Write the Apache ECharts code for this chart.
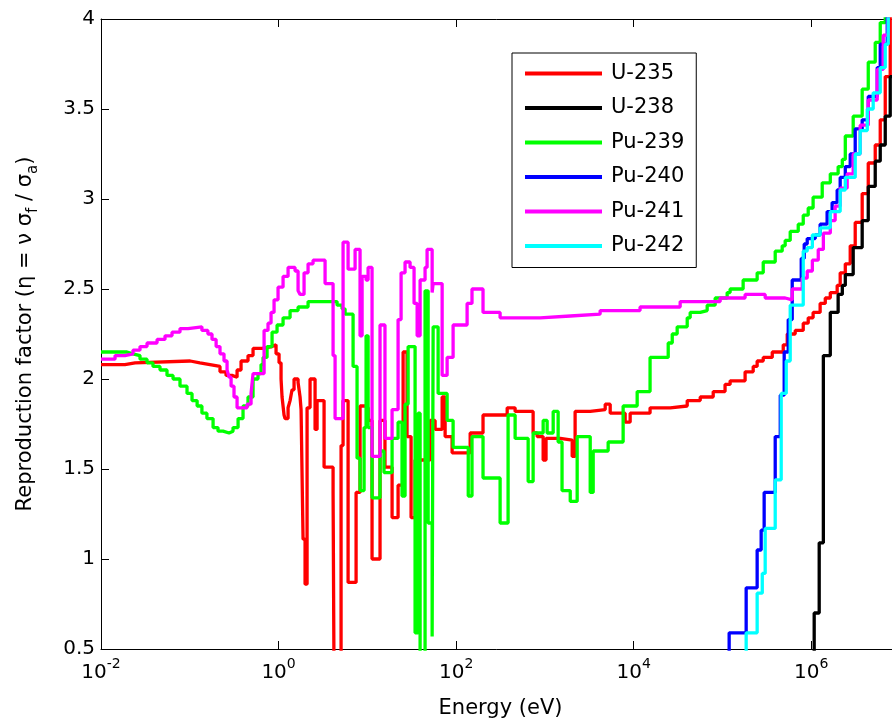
<!DOCTYPE html>
<html><head><meta charset="utf-8">
<script src="https://cdn.jsdelivr.net/npm/echarts@6/dist/echarts.min.js"></script>
<style>html,body{margin:0;padding:0;background:#fff;overflow:hidden}#c{width:892px;height:723px}</style>
</head><body><div id="c"></div>
<script>
const seriesNames = ['U-235', 'U-238', 'Pu-239', 'Pu-240', 'Pu-241', 'Pu-242'];
const seriesColors = ['#ff0000', '#000000', '#00ff00', '#0000ff', '#ff00ff', '#00ffff'];
const xTickExponents = [-2, 0, 2, 4, 6];
const yTickValues = [0.5, 1, 1.5, 2, 2.5, 3, 3.5, 4];

const u235Energy = [0.01,0.0186,0.0242,0.101,0.130,0.169,0.219,0.256,0.299,0.341,0.378,0.453,0.516,0.652,0.845,0.937,1.013,1.067,1.095,1.153,1.184,1.28,1.348,1.419,1.495,1.659,1.747,1.793,1.888,1.989,2.095,2.264,2.578,2.716,3.256,4.113,4.221,5.06,5.33,6.07,7.47,8.28,9.43,10.2,11.3,13.9,15.8,19.0,22.2,25.3,28.0,31.1,34.5,50.9,58.0,69.6,75.2,90.1,144,201,376,462,737,818,956,1030,1490,2030,2190,3240,4780,5440,8020,9130,15300,25800,40100,56200,78700,107000,122000,180000,222000,246000,288000,364000,484000,537000,660000,813000,925000,1.05e6,1.26e6,1.44e6,1.64e6,1.96e6,2.12e6,2.42e6,2.75e6,3.13e6,3.75e6,4.39e6,5.26e6,5.99e6,6.82e6,7.76e6,1e7];
const u235Eta = [2.08,2.09,2.10,2.09,2.08,2.07,2.04,2.02,2.01,2.05,2.10,2.13,2.17,2.18,2.19,2.14,2.09,2.00,1.90,1.80,1.78,1.84,1.88,1.94,2.00,1.98,1.90,1.83,1.11,0.86,1.84,2.00,1.72,1.88,1.51,1.37,0.30,1.63,1.88,0.87,1.37,1.85,1.84,1.77,1.00,1.77,1.51,1.23,1.41,2.15,1.68,1.23,1.55,1.77,1.72,1.90,1.68,1.59,1.70,1.80,1.84,1.82,1.70,1.68,1.55,1.67,1.66,1.57,1.82,1.83,1.86,1.81,1.76,1.81,1.84,1.85,1.88,1.90,1.93,1.97,1.99,2.04,2.07,2.10,2.12,2.15,2.19,2.25,2.27,2.31,2.34,2.37,2.42,2.45,2.48,2.52,2.59,2.64,2.74,2.87,3.03,3.20,3.30,3.44,3.68,4.10,4.10];

const u238Energy = [1e5,1.08e6,1.23e6,1.37e6,1.64e6,2.01e6,2.24e6,2.42e6,2.97e6,3.75e6,4.39e6,5.26e6,5.99e6,6.82e6,7.76e6,1e7];
const u238Eta = [0,0.70,1.09,2.13,2.37,2.47,2.52,2.58,2.73,2.88,3.07,3.21,3.30,3.46,3.68,3.68];

const pu239Energy = [0.01,0.0196,0.0229,0.0275,0.033,0.0385,0.0462,0.0554,0.0648,0.0776,0.0931,0.106,0.121,0.137,0.156,0.183,0.208,0.237,0.277,0.307,0.350,0.398,0.453,0.516,0.587,0.635,0.669,0.742,0.845,0.962,1.124,1.348,1.659,2.150,4.563,5.19,5.615,6.91,7.66,8.28,9.19,9.68,10.2,11.3,13.9,15.4,19.0,22.2,24.6,26.6,28.8,34.5,37.3,39.3,44.7,48.4,53.7,55.1,62.7,79.2,92.5,137,151,201,313,385,462,648,737,956,1060,1240,1410,1560,1930,2310,3240,3500,5160,7610,10950,15300,24500,27200,30900,40100,43300,56200,67300,82800,113000,122000,171000,246000,288000,393000,471000,509000,580000,714000,813000,925000,1.05e6,1.33e6,1.64e6,2.01e6,2.24e6,2.42e6,2.97e6,3.75e6,4.39e6,5.26e6,5.99e6,6.82e6,1e7];
const pu239Eta = [2.15,2.14,2.13,2.11,2.09,2.07,2.05,2.02,2.00,1.96,1.92,1.88,1.85,1.81,1.78,1.73,1.71,1.70,1.71,1.73,1.78,1.85,1.90,2.00,2.03,2.08,2.12,2.18,2.26,2.30,2.34,2.38,2.40,2.43,2.41,2.39,2.36,2.07,1.56,1.38,1.73,2.24,1.73,1.34,1.60,1.48,1.67,1.76,1.35,1.86,2.18,0.59,1.81,0.30,2.49,1.20,0.57,2.29,1.92,1.77,1.62,1.35,1.68,1.45,1.20,1.80,1.67,1.43,1.70,1.77,1.70,1.82,1.65,1.38,1.32,1.68,1.37,1.60,1.65,1.85,1.93,2.12,2.20,2.25,2.29,2.34,2.37,2.38,2.41,2.45,2.48,2.50,2.55,2.59,2.65,2.71,2.74,2.77,2.82,2.86,2.91,2.95,3.01,3.09,3.14,3.18,3.22,3.35,3.46,3.61,3.76,3.87,3.98,4.10,4.10];

const pu240Energy = [1e5,119000,185000,246000,273000,295000,393000,448000,496000,551000,611000,772000,834000,901000,1.11e6,1.26e6,1.51e6,1.72e6,1.96e6,2.12e6,2.42e6,2.75e6,3.13e6,3.75e6,4.39e6,5.54e6,5.99e6,7.18e6,1e7];
const pu240Eta = [0,0.59,0.84,1.05,1.16,1.37,1.68,1.91,2.15,2.33,2.55,2.67,2.75,2.78,2.80,2.86,2.93,2.98,3.05,3.12,3.18,3.25,3.39,3.44,3.57,3.73,3.86,4.10,4.10];

const pu241Energy = [0.01,0.0144,0.0186,0.0229,0.0275,0.033,0.0428,0.0526,0.0631,0.0776,0.0956,0.137,0.160,0.178,0.198,0.219,0.243,0.263,0.277,0.292,0.315,0.341,0.442,0.490,0.516,0.687,0.761,0.823,0.890,0.987,1.124,1.280,1.534,1.659,1.747,1.938,2.150,2.447,3.342,4.113,4.332,5.33,6.07,7.28,8.28,8.73,9.68,10.2,11.3,13.9,15.8,19.0,22.2,24.0,26.6,30.3,33.6,36.4,39.3,44.7,47.1,53.7,55.1,69.6,79.2,92.5,133,151,201,313,884,1930,4190,11800,33400,94300,180000,303000,509000,611000,792000,901000,1.03e6,1.20e6,1.37e6,1.64e6,1.86e6,2.12e6,2.54e6,2.97e6,3.56e6,4.39e6,5.54e6,6.48e6,7.37e6,1e7];
const pu241Eta = [2.11,2.13,2.14,2.16,2.18,2.20,2.22,2.24,2.26,2.28,2.29,2.27,2.25,2.22,2.18,2.14,2.10,2.05,2.01,1.96,1.90,1.84,1.86,1.92,2.03,2.27,2.31,2.37,2.44,2.51,2.57,2.62,2.60,2.49,2.47,2.59,2.64,2.66,2.53,2.13,1.78,2.76,2.61,2.72,2.24,2.57,2.55,2.62,1.57,2.30,1.67,1.83,2.33,2.59,2.65,2.62,2.42,2.24,2.55,2.62,2.72,2.48,2.53,2.02,2.12,2.30,2.42,2.50,2.37,2.34,2.35,2.36,2.38,2.40,2.43,2.45,2.47,2.45,2.44,2.50,2.56,2.60,2.66,2.72,2.81,2.88,2.96,3.06,3.14,3.25,3.41,3.55,3.72,3.91,4.10,4.10];

const pu242Energy = [1e5,185000,246000,281000,303000,393000,459000,523000,580000,813000,901000,1.03e6,1.26e6,1.64e6,2.12e6,2.42e6,3.13e6,3.56e6,4.28e6,4.99e6,5.99e6,6.82e6,7.37e6,1e7];
const pu242Eta = [0,0.59,0.81,0.92,1.17,1.44,1.92,2.10,2.41,2.71,2.73,2.80,2.84,2.93,3.05,3.12,3.25,3.38,3.50,3.59,3.73,3.86,4.10,4.10];

const energies = [u235Energy, u238Energy, pu239Energy, pu240Energy, pu241Energy, pu242Energy];
const etas = [u235Eta, u238Eta, pu239Eta, pu240Eta, pu241Eta, pu242Eta];

const FONT = 'DejaVu Sans';
const chart = echarts.init(document.getElementById('c'), null, {renderer: 'canvas'});

function xLabel(v) {
  const lg = Math.log10(v);
  const e = Math.round(lg);
  if (Math.abs(lg - e) > 1e-6 || xTickExponents.indexOf(e) < 0) return '';
  return '{b|10}{s|' + e + '}';
}

const series = seriesNames.map((name, i) => ({
  type: 'line',
  name: name,
  step: 'end',
  symbol: 'none',
  showSymbol: false,
  clip: true,
  animation: false,
  lineStyle: {color: seriesColors[i], width: 3.3},
  itemStyle: {color: seriesColors[i]},
  data: energies[i].map((e, k) => [e, etas[i][k]])
}));

const axisCommon = {
  axisLine: {show: true, onZero: false, lineStyle: {color: '#000', width: 1}},
  axisTick: {show: true, inside: true, length: 8, lineStyle: {color: '#000', width: 1}},
  splitLine: {show: false},
  minorTick: {show: false}
};

chart.setOption({
  animation: false,
  backgroundColor: '#ffffff',
  grid: {left: 101, top: 19, width: 799, height: 630, containLabel: false, outerBoundsMode: 'none'},
  legend: {
    orient: 'vertical',
    left: 512, top: 53,
    padding: [10, 12, 11, 13],
    itemGap: 13.5,
    itemWidth: 77,
    itemHeight: 4,
    icon: 'rect',
    borderColor: '#000', borderWidth: 1,
    backgroundColor: '#fff',
    textStyle: {fontFamily: FONT, fontSize: 21, color: '#000', lineHeight: 21, padding: [0, 0, 0, 4]},
    data: seriesNames.map((n, i) => ({name: n, icon: 'rect', itemStyle: {color: seriesColors[i]}}))
  },
  xAxis: [
    Object.assign({}, axisCommon, {
      type: 'log', logBase: 100, min: 0.01, max: 1e7, position: 'bottom',
      axisLabel: {
        margin: 8, color: '#000', fontFamily: FONT, formatter: xLabel,
        rich: {
          b: {fontFamily: FONT, fontSize: 20, color: '#000', lineHeight: 26, verticalAlign: 'bottom'},
          s: {fontFamily: FONT, fontSize: 14, color: '#000', lineHeight: 14, verticalAlign: 'top'}
        }
      },
      name: 'Energy (eV)', nameLocation: 'middle', nameGap: 49,
      nameTextStyle: {fontFamily: FONT, fontSize: 21, color: '#000'}
    }),
    Object.assign({}, axisCommon, {
      type: 'log', logBase: 100, min: 0.01, max: 1e7, position: 'top',
      axisLabel: {show: false}
    })
  ],
  yAxis: [
    Object.assign({}, axisCommon, {
      type: 'value', min: 0.5, max: 4, interval: 0.5, position: 'left',
      axisLabel: {margin: 6, color: '#000', fontFamily: FONT, fontSize: 20,
        formatter: v => (yTickValues.indexOf(v) >= 0 ? String(v) : '')},
      name: '{a|Reproduction factor (η = ν σ}{s|f}{a| / σ}{s|a}{a|)}',
      nameLocation: 'middle', nameGap: 60,
      nameTextStyle: {
        fontFamily: FONT, fontSize: 21, color: '#000',
        rich: {
          a: {fontFamily: FONT, fontSize: 21, color: '#000', lineHeight: 30, verticalAlign: 'middle'},
          s: {fontFamily: FONT, fontSize: 15, color: '#000', lineHeight: 15, verticalAlign: 'bottom'}
        }
      }
    }),
    Object.assign({}, axisCommon, {
      type: 'value', min: 0.5, max: 4, interval: 0.5, position: 'right',
      axisLabel: {show: false}
    })
  ],
  series: series
});
</script>
</body></html>
